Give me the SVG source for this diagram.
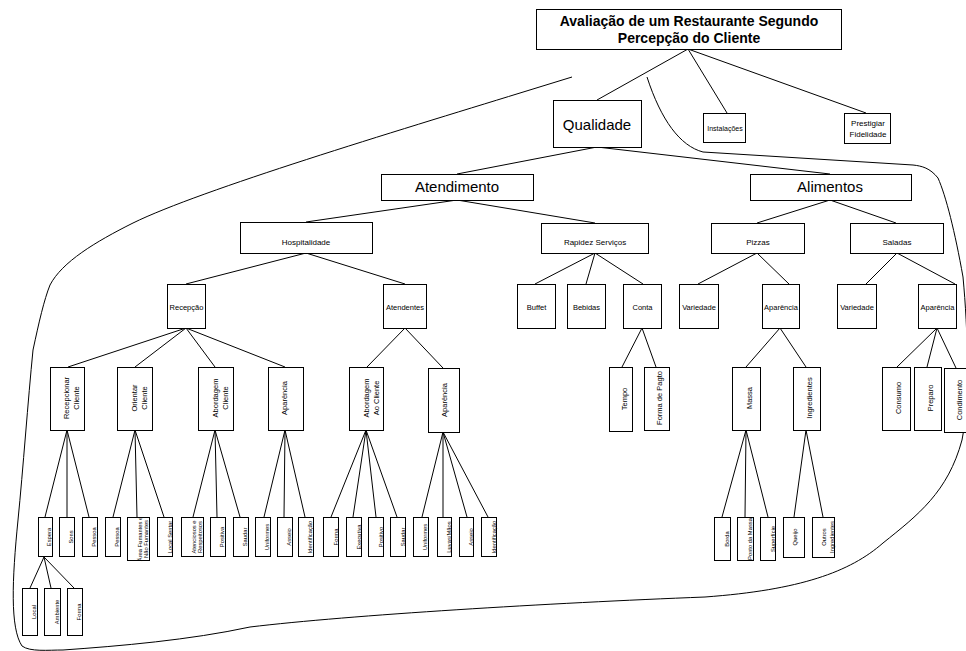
<svg xmlns="http://www.w3.org/2000/svg" width="966" height="651" viewBox="0 0 966 651">
  <style>
    .box { fill: #fff; stroke: #000; stroke-width: 1; }
    .ln { fill: none; stroke: #000; stroke-width: 1; }
    text { font-family: "Liberation Sans", Arial, sans-serif; fill: #000; text-anchor: middle; }
    .title { font-size: 14px; font-weight: bold; }
    .big { font-size: 15px; }
    .mid { font-size: 8px; }
    .sm { font-size: 7.5px; }
    .v { font-size: 7.5px; dominant-baseline: central; }
    .leaf { font-size: 5.8px; dominant-baseline: central; }
  </style>

  <rect width="966" height="651" fill="#fff"/>

  <!-- grouping outline -->
  <g id="boundary">
    <path class="ln" d="M572,77 L520,93 C400,130 200,190 133,223 C95,242 62,262 50,285 C44,300 39,322 33,350 C28,400 23,470 18,520 C12,580 10,628 22,646 C30,652 48,650 63,650 C120,646 190,640 250,627 C350,615 550,603 705,597 C800,590 850,572 883,543 C918,515 948,492 962,440 C970,400 968,330 963,277 C955,232 946,196 938,178 C930,168 922,166 913,165 L703,152 C680,146 661,120 647,77"/>
  </g>

  <!-- connectors -->
  <g id="connectors" class="ln">
    <line x1="688" y1="49" x2="597" y2="100"/>
    <line x1="688" y1="49" x2="727" y2="113"/>
    <line x1="688" y1="49" x2="866" y2="113"/>
    <line x1="597" y1="147" x2="457" y2="174"/>
    <line x1="597" y1="147" x2="830" y2="174"/>
    <line x1="457" y1="200" x2="306" y2="222"/>
    <line x1="457" y1="200" x2="595" y2="223"/>
    <line x1="830" y1="200" x2="757" y2="223"/>
    <line x1="830" y1="200" x2="896" y2="223"/>
    <line x1="306" y1="253" x2="186" y2="284"/>
    <line x1="306" y1="253" x2="405" y2="284"/>
    <line x1="595" y1="253" x2="535" y2="284"/>
    <line x1="595" y1="253" x2="586" y2="284"/>
    <line x1="595" y1="253" x2="643" y2="284"/>
    <line x1="757" y1="253" x2="698" y2="284"/>
    <line x1="757" y1="253" x2="789" y2="284"/>
    <line x1="897" y1="253" x2="866" y2="284"/>
    <line x1="897" y1="253" x2="955" y2="284"/>
    <line x1="186" y1="328" x2="68" y2="367"/>
    <line x1="186" y1="328" x2="135" y2="367"/>
    <line x1="186" y1="328" x2="215" y2="367"/>
    <line x1="186" y1="328" x2="285" y2="367"/>
    <line x1="405" y1="328" x2="367" y2="367"/>
    <line x1="405" y1="328" x2="443" y2="368"/>
    <line x1="642" y1="328" x2="622" y2="367"/>
    <line x1="642" y1="328" x2="656" y2="367"/>
    <line x1="780" y1="328" x2="746" y2="367"/>
    <line x1="780" y1="328" x2="806" y2="367"/>
    <line x1="937" y1="328" x2="897" y2="367"/>
    <line x1="937" y1="328" x2="927" y2="367"/>
    <line x1="937" y1="328" x2="956" y2="368"/>
    <line x1="67" y1="430" x2="45" y2="517"/>
    <line x1="67" y1="430" x2="67" y2="517"/>
    <line x1="67" y1="430" x2="89" y2="517"/>
    <line x1="135" y1="430" x2="113" y2="517"/>
    <line x1="135" y1="430" x2="137" y2="517"/>
    <line x1="135" y1="430" x2="164" y2="517"/>
    <line x1="215" y1="430" x2="193" y2="517"/>
    <line x1="215" y1="430" x2="217" y2="517"/>
    <line x1="215" y1="430" x2="240" y2="517"/>
    <line x1="285" y1="430" x2="264" y2="517"/>
    <line x1="285" y1="430" x2="284" y2="517"/>
    <line x1="285" y1="430" x2="305" y2="517"/>
    <line x1="366" y1="430" x2="331" y2="517"/>
    <line x1="366" y1="430" x2="353" y2="517"/>
    <line x1="366" y1="430" x2="376" y2="517"/>
    <line x1="366" y1="430" x2="397" y2="517"/>
    <line x1="443" y1="432" x2="422" y2="517"/>
    <line x1="443" y1="432" x2="443" y2="517"/>
    <line x1="443" y1="432" x2="467" y2="517"/>
    <line x1="443" y1="432" x2="488" y2="517"/>
    <line x1="746" y1="430" x2="722" y2="517"/>
    <line x1="746" y1="430" x2="745" y2="517"/>
    <line x1="746" y1="430" x2="768" y2="517"/>
    <line x1="806" y1="430" x2="794" y2="517"/>
    <line x1="806" y1="430" x2="823" y2="517"/>
    <line x1="44" y1="557" x2="30" y2="588"/>
    <line x1="44" y1="557" x2="51" y2="588"/>
    <line x1="44" y1="557" x2="74" y2="588"/>
  </g>

  <!-- top levels -->
  <g id="n-root"><rect class="box" x="536.5" y="9.5" width="305" height="40"/>
    <text class="title" x="689" y="26">Avaliação de um Restaurante Segundo</text>
    <text class="title" x="689" y="43">Percepção do Cliente</text></g>
  <g id="n-qualidade"><rect class="box" x="553.5" y="100.5" width="88" height="47"/><text class="big" x="597" y="130">Qualidade</text></g>
  <g id="n-instalacoes"><rect class="box" x="703.5" y="113.5" width="42" height="29"/><text style="font-size:7px" x="725" y="131">Instalações</text></g>
  <g id="n-prestigiar"><rect class="box" x="844.5" y="113.5" width="46" height="30"/>
    <text class="mid" x="868" y="126">Prestigiar</text><text class="mid" x="868" y="137">Fidelidade</text></g>
  <g id="n-atendimento"><rect class="box" x="381.5" y="174.5" width="152" height="26"/><text class="big" x="457" y="192">Atendimento</text></g>
  <g id="n-alimentos"><rect class="box" x="750.5" y="174.5" width="161" height="26"/><text class="big" x="830" y="192">Alimentos</text></g>
  <g id="n-hospitalidade"><rect class="box" x="240.5" y="222.5" width="132" height="31"/><text class="mid" x="306" y="245">Hospitalidade</text></g>
  <g id="n-rapidez"><rect class="box" x="541.5" y="223.5" width="107" height="30"/><text class="mid" x="595" y="245">Rapidez Serviços</text></g>
  <g id="n-pizzas"><rect class="box" x="711.5" y="223.5" width="93" height="30"/><text class="mid" x="758" y="245">Pizzas</text></g>
  <g id="n-saladas"><rect class="box" x="850.5" y="223.5" width="93" height="30"/><text class="mid" x="897" y="245">Saladas</text></g>

  <!-- fourth level -->
  <g id="n-recepcao"><rect class="box" x="167.5" y="284.5" width="38" height="44"/><text class="sm" x="186.5" y="310">Recepção</text></g>
  <g id="n-atendentes"><rect class="box" x="383.5" y="284.5" width="43" height="44"/><text class="sm" x="405" y="310">Atendentes</text></g>
  <g id="n-buffet"><rect class="box" x="517.5" y="284.5" width="38" height="44"/><text class="sm" x="536.5" y="310">Buffet</text></g>
  <g id="n-bebidas"><rect class="box" x="567.5" y="284.5" width="38" height="44"/><text class="sm" x="586.5" y="310">Bebidas</text></g>
  <g id="n-conta"><rect class="box" x="623.5" y="284.5" width="38" height="44"/><text class="sm" x="642.5" y="310">Conta</text></g>
  <g id="n-variedade-p"><rect class="box" x="679.5" y="284.5" width="39" height="44"/><text class="sm" x="699" y="310">Variedade</text></g>
  <g id="n-aparencia-p"><rect class="box" x="762.5" y="284.5" width="37" height="44"/><text class="sm" x="781" y="310">Aparência</text></g>
  <g id="n-variedade-s"><rect class="box" x="837.5" y="284.5" width="39" height="44"/><text class="sm" x="857" y="310">Variedade</text></g>
  <g id="n-aparencia-s"><rect class="box" x="918.5" y="284.5" width="38" height="44"/><text class="sm" x="937.5" y="310">Aparência</text></g>

  <!-- fifth level (vertical labels) -->
  <g id="n-recepcionar"><rect class="box" x="50.5" y="367.5" width="34" height="63"/>
    <text class="v" transform="translate(66,398) rotate(-90)">Recepcionar</text>
    <text class="v" transform="translate(76,398) rotate(-90)">Cliente</text></g>
  <g id="n-orientar"><rect class="box" x="117.5" y="367.5" width="35" height="63"/>
    <text class="v" transform="translate(134,398) rotate(-90)">Orientar</text>
    <text class="v" transform="translate(144,398) rotate(-90)">Cliente</text></g>
  <g id="n-abordagem"><rect class="box" x="198.5" y="367.5" width="35" height="63"/>
    <text class="v" transform="translate(215,398) rotate(-90)">Abordagem</text>
    <text class="v" transform="translate(225,398) rotate(-90)">Cliente</text></g>
  <g id="n-aparencia-r"><rect class="box" x="268.5" y="367.5" width="35" height="63"/>
    <text class="v" transform="translate(284,398) rotate(-90)">Aparência</text></g>
  <g id="n-abordagem-ao"><rect class="box" x="349.5" y="367.5" width="34" height="63"/>
    <text class="v" transform="translate(366,398) rotate(-90)">Abordagem</text>
    <text class="v" transform="translate(376,398) rotate(-90)">Ao Cliente</text></g>
  <g id="n-aparencia-a"><rect class="box" x="428.5" y="368.5" width="31" height="64"/>
    <text class="v" transform="translate(444,400) rotate(-90)">Aparência</text></g>
  <g id="n-tempo"><rect class="box" x="609.5" y="367.5" width="23" height="64"/>
    <text class="v" transform="translate(624,399) rotate(-90)">Tempo</text></g>
  <g id="n-forma-pagto"><rect class="box" x="644.5" y="367.5" width="25" height="63"/>
    <text class="v" transform="translate(659,398) rotate(-90)">Forma de Pagto</text></g>
  <g id="n-massa"><rect class="box" x="732.5" y="367.5" width="28" height="63"/>
    <text class="v" transform="translate(749,398) rotate(-90)">Massa</text></g>
  <g id="n-ingredientes"><rect class="box" x="793.5" y="367.5" width="27" height="63"/>
    <text class="v" transform="translate(809,398) rotate(-90)">Ingredientes</text></g>
  <g id="n-consumo"><rect class="box" x="882.5" y="367.5" width="28" height="63"/>
    <text class="v" transform="translate(898,398) rotate(-90)">Consumo</text></g>
  <g id="n-preparo"><rect class="box" x="914.5" y="367.5" width="27" height="63"/>
    <text class="v" transform="translate(930,398) rotate(-90)">Preparo</text></g>
  <g id="n-condimento"><rect class="box" x="944.5" y="368.5" width="23" height="64"/>
    <text class="v" transform="translate(959,400) rotate(-90)">Condimento</text></g>

  <!-- leaves -->
  <g id="n-espera"><rect class="box" x="38.5" y="517.5" width="14" height="39"/><text class="leaf" transform="translate(49,537) rotate(-90)">Espera</text></g>
  <g id="n-sons"><rect class="box" x="59.5" y="517.5" width="15" height="39"/><text class="leaf" transform="translate(71,537) rotate(-90)">Sons</text></g>
  <g id="n-pessoa-1"><rect class="box" x="82.5" y="517.5" width="15" height="39"/><text class="leaf" transform="translate(94,537) rotate(-90)">Pessoa</text></g>
  <g id="n-pessoa-2"><rect class="box" x="105.5" y="517.5" width="15" height="39"/><text class="leaf" transform="translate(117,537) rotate(-90)">Pessoa</text></g>
  <g id="n-area"><rect class="box" x="127.5" y="517.5" width="22" height="43"/>
    <text class="leaf" transform="translate(140,539) rotate(-90)">Área Fumantes e</text>
    <text class="leaf" transform="translate(146,539) rotate(-90)">Não Fumantes</text></g>
  <g id="n-local-sentar"><rect class="box" x="157.5" y="517.5" width="15" height="39"/><text class="leaf" transform="translate(169.5,537) rotate(-90)">Local Sentar</text></g>
  <g id="n-atenciosos"><rect class="box" x="181.5" y="517.5" width="22" height="39"/>
    <text class="leaf" transform="translate(193.5,537) rotate(-90)">Atenciosos e</text>
    <text class="leaf" transform="translate(199.5,537) rotate(-90)">Respeitosos</text></g>
  <g id="n-positiva"><rect class="box" x="210.5" y="517.5" width="15" height="39"/><text class="leaf" transform="translate(222,537) rotate(-90)">Positiva</text></g>
  <g id="n-saudar-1"><rect class="box" x="233.5" y="517.5" width="15" height="39"/><text class="leaf" transform="translate(245,537) rotate(-90)">Saudar</text></g>
  <g id="n-uniformes-1"><rect class="box" x="255.5" y="517.5" width="15" height="39"/><text class="leaf" transform="translate(267,537) rotate(-90)">Uniformes</text></g>
  <g id="n-asseio-1"><rect class="box" x="277.5" y="517.5" width="15" height="39"/><text class="leaf" transform="translate(289,537) rotate(-90)">Asseio</text></g>
  <g id="n-ident-1"><rect class="box" x="298.5" y="517.5" width="15" height="39"/><text class="leaf" transform="translate(310,537) rotate(-90)">Identificação</text></g>
  <g id="n-forma-1"><rect class="box" x="323.5" y="517.5" width="15" height="39"/><text class="leaf" transform="translate(335.5,537) rotate(-90)">Forma</text></g>
  <g id="n-executiva"><rect class="box" x="346.5" y="517.5" width="15" height="39"/><text class="leaf" transform="translate(358.5,537) rotate(-90)">Executiva</text></g>
  <g id="n-positivo"><rect class="box" x="368.5" y="517.5" width="15" height="39"/><text class="leaf" transform="translate(380.5,537) rotate(-90)">Positivo</text></g>
  <g id="n-saudar-2"><rect class="box" x="390.5" y="517.5" width="15" height="39"/><text class="leaf" transform="translate(402.5,537) rotate(-90)">Saudar</text></g>
  <g id="n-uniformes-2"><rect class="box" x="413.5" y="517.5" width="15" height="39"/><text class="leaf" transform="translate(425,537) rotate(-90)">Uniformes</text></g>
  <g id="n-luvas"><rect class="box" x="437.5" y="517.5" width="14" height="39"/><text class="leaf" transform="translate(448.5,537) rotate(-90)">Luvas/Mãos</text></g>
  <g id="n-asseio-2"><rect class="box" x="459.5" y="517.5" width="14" height="39"/><text class="leaf" transform="translate(470.5,537) rotate(-90)">Asseio</text></g>
  <g id="n-ident-2"><rect class="box" x="481.5" y="517.5" width="15" height="39"/><text class="leaf" transform="translate(493.5,537) rotate(-90)">Identificação</text></g>
  <g id="n-borda"><rect class="box" x="714.5" y="517.5" width="16" height="43"/><text class="leaf" transform="translate(727,539) rotate(-90)">Borda</text></g>
  <g id="n-ponto"><rect class="box" x="737.5" y="517.5" width="16" height="43"/><text class="leaf" transform="translate(750,539) rotate(-90)">Ponto da Massa</text></g>
  <g id="n-superficie"><rect class="box" x="760.5" y="517.5" width="15" height="43"/><text class="leaf" transform="translate(772.5,539) rotate(-90)">Superfície</text></g>
  <g id="n-queijo"><rect class="box" x="783.5" y="517.5" width="21" height="40"/><text class="leaf" transform="translate(795,537) rotate(-90)">Queijo</text></g>
  <g id="n-outros"><rect class="box" x="812.5" y="517.5" width="22" height="40"/>
    <text class="leaf" transform="translate(824,537) rotate(-90)">Outros</text>
    <text class="leaf" transform="translate(831.5,537) rotate(-90)">Ingredientes</text></g>
  <g id="n-local"><rect class="box" x="22.5" y="588.5" width="15" height="47"/><text class="leaf" transform="translate(33.5,612) rotate(-90)">Local</text></g>
  <g id="n-ambiente"><rect class="box" x="44.5" y="588.5" width="16" height="47"/><text class="leaf" transform="translate(57,612) rotate(-90)">Ambiente</text></g>
  <g id="n-forma-2"><rect class="box" x="67.5" y="588.5" width="15" height="47"/><text class="leaf" transform="translate(79,612) rotate(-90)">Forma</text></g>
</svg>
